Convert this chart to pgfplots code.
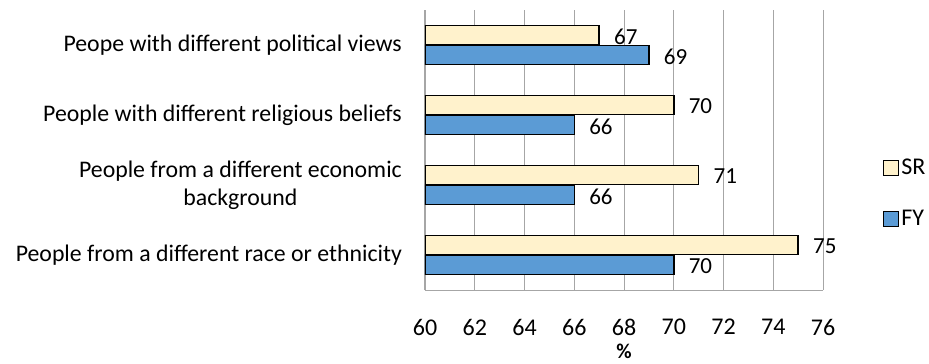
\documentclass[border=0pt]{standalone}
\usepackage{pgfplots}
\pgfplotsset{compat=1.18}
\usepackage{fontspec}
\setmainfont{Carlito}
\definecolor{srfill}{HTML}{FFF2CC}
\definecolor{fyfill}{HTML}{5B9BD5}
\definecolor{gridgray}{HTML}{A6A6A6}
\begin{document}
\begin{tikzpicture}
\path[use as bounding box] (0,0) rectangle (929pt,364pt);
\begin{axis}[
  at={(425pt,74pt)}, anchor=south west,
  scale only axis, width=398pt, height=280pt,
  /pgf/number format/assume math mode=true,
  xbar, bar width=19pt,
  xmin=60, xmax=76, xtick={60,62,...,76},
  ymin=-0.5, ymax=3.5, ytick={0,1,2,3},
  enlargelimits=false,
  yticklabels={{People from a different race or ethnicity},{People from a different economic\\background},{People with different religious beliefs},{Peope with different political views}},
  axis x line*=bottom, axis y line*=left,
  axis line style={gridgray, line width=1pt, -},
  xmajorgrids, major grid style={gridgray, line width=0.9pt},
  major tick length=0pt,
  xticklabel style={font=\fontsize{24}{28}\selectfont, anchor=center, yshift=-37pt},
  yticklabel style={font=\fontsize{23.8}{28}\selectfont, anchor=east, align=center, inner sep=0pt, xshift=-23pt},
  xlabel={\textbf{\%}},
  xlabel style={at={(axis description cs:0.5,0)}, anchor=center, inner sep=0pt, yshift=-61pt, font=\fontsize{21}{24}\selectfont},
  nodes near coords,
  nodes near coords style={font=\fontsize{23}{26}\selectfont, anchor=west, xshift=11pt, yshift=-1.5pt},
  legend style={draw=none, fill=none, at={(1.1506,0.345)}, anchor=west, inner sep=0pt, row sep=30pt, font=\fontsize{24}{28}\selectfont},
  legend cell align=left,
  legend image code/.code={\draw[#1, draw=black, line width=1.2pt] (-5pt,-7.5pt) rectangle (10pt,7.5pt);},
]
\addplot[fill=srfill, draw=black, line width=1.5pt, bar shift=10pt] coordinates {(75,0) (71,1) (70,2) (67,3)};
\addplot[fill=fyfill, draw=black, line width=1.5pt, bar shift=-10pt] coordinates {(70,0) (66,1) (66,2) (69,3)};
\legend{SR,FY}
\end{axis}
\end{tikzpicture}
\end{document}
